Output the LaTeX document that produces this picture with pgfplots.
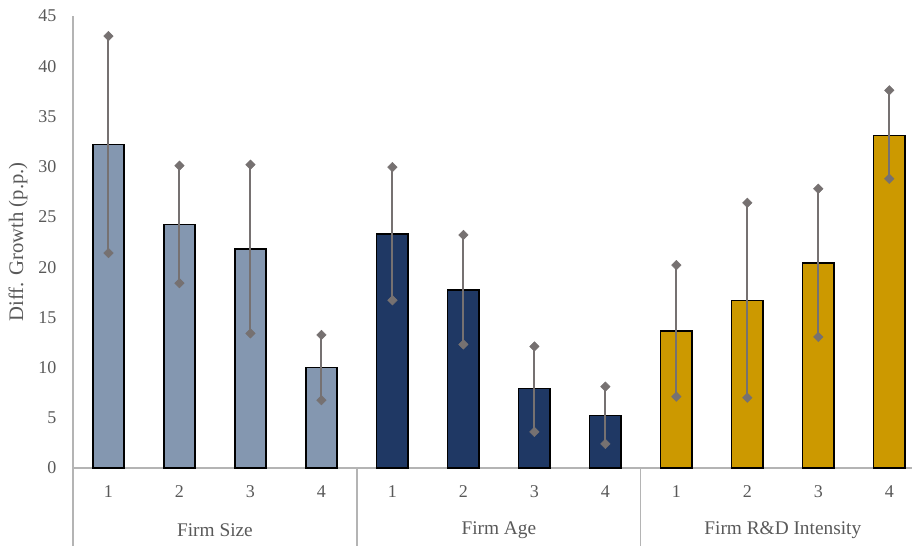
\documentclass[border=0pt]{standalone}
\usepackage{fontspec}
\setmainfont{Liberation Serif}
\usepackage{pgfplots}
\pgfplotsset{compat=1.18}
\definecolor{c1}{HTML}{8497B0}
\definecolor{c2}{HTML}{1F3864}
\definecolor{c3}{HTML}{CC9900}
\definecolor{errc}{HTML}{767171}
\definecolor{axc}{HTML}{B4B4B4}
\definecolor{txt}{HTML}{595959}
\pgfplotstableread{
x y ep em
0 32.2 10.8 10.8
1 24.25 5.85 5.85
2 21.8 8.4 8.4
3 10.0 3.25 3.25
}\sizetab
\pgfplotstableread{
x y ep em
4 23.3 6.65 6.6
5 17.7 5.5 5.4
6 7.9 4.2 4.3
7 5.25 2.85 2.85
}\agetab
\pgfplotstableread{
x y ep em
8 13.65 6.55 6.55
9 16.7 9.7 9.7
10 20.4 7.4 7.35
11 33.1 4.5 4.3
}\rdtab
\pgfplotsset{myerr/.style={
    error bars/y dir=both, error bars/y explicit,
    error bars/error bar style={errc, line width=1.5pt},
    error bars/error mark=square*,
    error bars/error mark options={rotate=45, mark size=2.5pt, draw=errc, fill=errc, line width=0.4pt}}}
\begin{document}
\begin{tikzpicture}
\useasboundingbox (0,0) rectangle (686.25pt,409.5pt);
\begin{axis}[
  at={(54.75pt,58.5pt)}, anchor=south west,
  scale only axis, width=629.25pt, height=339pt,
  xmin=-0.5, xmax=11.32, ymin=0, ymax=45,
  ytick={0,5,...,45},
  xtick={0,...,11},
  xticklabels={1,2,3,4,1,2,3,4,1,2,3,4},
  axis x line*=bottom, axis y line*=left,
  axis line style={axc, line width=0.9pt, -},
  major tick length=0pt,
  tick label style={font=\fontsize{13.5}{15}\selectfont, text=txt},
  /pgf/number format/assume math mode=true,
  x tick label style={anchor=center, yshift=-18pt},
  y tick label style={anchor=east, xshift=-9pt},
  ylabel={Diff. Growth (p.p.)},
  ylabel style={at={(axis description cs:-0.0656,0.5)}, anchor=center, font=\fontsize{15.5}{17}\selectfont, text=txt},
  clip=false,
  ybar, bar width=23.5pt,
  every axis plot/.append style={bar shift=0pt, draw=black, line width=1.1pt},
]
\addplot[fill=c1, myerr] table[x=x, y=y, y error plus=ep, y error minus=em] {\sizetab};
\addplot[fill=c2, myerr] table[x=x, y=y, y error plus=ep, y error minus=em] {\agetab};
\addplot[fill=c3, myerr] table[x=x, y=y, y error plus=ep, y error minus=em] {\rdtab};
\draw[axc, line width=0.9pt] (axis cs:-0.5,0) -- ++(0pt,-60pt);
\draw[axc, line width=0.9pt] (axis cs:3.5,0) -- ++(0pt,-60pt);
\draw[axc, line width=0.9pt] (axis cs:7.5,0) -- ++(0pt,-60pt);
\node[font=\fontsize{14.5}{16}\selectfont, text=txt] at (axis cs:1.5,0) [yshift=-46.5pt] {Firm Size};
\node[font=\fontsize{14.5}{16}\selectfont, text=txt] at (axis cs:5.5,0) [yshift=-46.5pt] {Firm Age};
\node[font=\fontsize{14.5}{16}\selectfont, text=txt] at (axis cs:9.5,0) [yshift=-46.5pt] {Firm R\&D Intensity};
\end{axis}
\end{tikzpicture}
\end{document}
